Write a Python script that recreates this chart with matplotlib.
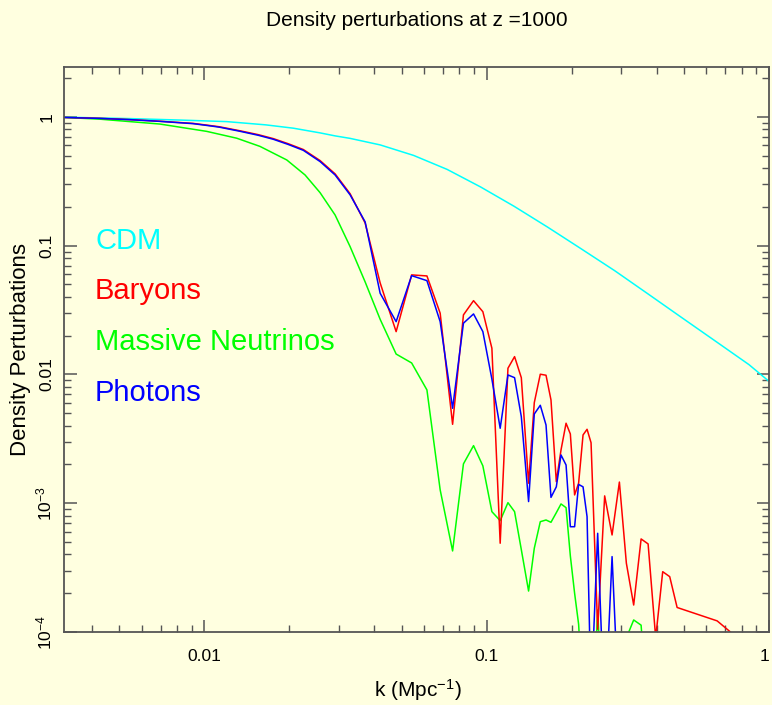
import matplotlib.pyplot as plt
from matplotlib.ticker import FixedLocator, LogLocator, NullFormatter

FONT = ["Liberation Sans", "DejaVu Sans"]
plt.rcParams["font.family"] = FONT
plt.rcParams["mathtext.fontset"] = "custom"
plt.rcParams["mathtext.rm"] = "Liberation Sans"
plt.rcParams["mathtext.it"] = "Liberation Sans"

BG = "#ffffe0"
FRAME = "#555555"

# values
k_cdm = [0.00318, 0.00544, 0.00819, 0.01199, 0.0165, 0.02065, 0.0257, 0.02903,
         0.0328, 0.04192, 0.0551, 0.0724, 0.0952, 0.1252, 0.1646, 0.2163, 0.2844,
         0.3739, 0.4915, 0.6461, 0.8492, 1.0]
d_cdm = [0.995, 0.970, 0.945, 0.919, 0.867, 0.817, 0.751, 0.712, 0.681, 0.606,
         0.502, 0.391, 0.2854, 0.2018, 0.139, 0.0944, 0.0638, 0.0420, 0.02757,
         0.01814, 0.01192, 0.00884]

k_bar = [0.00318, 0.00426, 0.00544, 0.00695, 0.00912, 0.0105, 0.0113, 0.01336,
         0.0155, 0.01754, 0.0198, 0.0224, 0.02568, 0.02903, 0.03281, 0.03709,
         0.04192, 0.04776, 0.0542, 0.0614, 0.0684, 0.0757, 0.0827, 0.0898, 0.0969,
         0.1043, 0.1116, 0.1189, 0.1255, 0.1326, 0.1407, 0.1474, 0.1548, 0.1622,
         0.1689, 0.1764, 0.1833, 0.1910, 0.1978, 0.2048, 0.2116, 0.2194, 0.2267,
         0.2342, 0.2472, 0.2617, 0.2780, 0.2951, 0.3124, 0.3316, 0.3523, 0.3730,
         0.3968, 0.4202, 0.4449, 0.4726, 0.6551, 0.730, 0.80]
d_bar = [0.99, 0.975, 0.953, 0.925, 0.890, 0.856, 0.838, 0.780, 0.728, 0.678,
         0.619, 0.558, 0.458, 0.361, 0.253, 0.150, 0.0514, 0.0215, 0.0593, 0.0582,
         0.0299, 0.0041, 0.0290, 0.0374, 0.0307, 0.01598, 4.89e-4, 0.01117,
         0.01375, 0.00944, 1.43e-3, 6.04e-3, 0.01004, 9.86e-3, 6.34e-3, 1.47e-3,
         2.59e-3, 4.18e-3, 3.45e-3, 1.16e-3, 1.43e-3, 3.39e-3, 3.75e-3, 2.95e-3,
         1.05e-4, 1.14e-3, 5.67e-4, 1.46e-3, 3.42e-4, 1.62e-4, 5.28e-4, 4.83e-4,
         9.0e-5, 2.94e-4, 2.69e-4, 1.55e-4, 1.22e-4, 1.0e-4, 8e-5]

k_nu = [0.00318, 0.00426, 0.00695, 0.01018, 0.01301, 0.01573, 0.01957, 0.02272,
        0.02568, 0.02903, 0.03281, 0.03709, 0.04192, 0.04776, 0.0542, 0.0614,
        0.0684, 0.0757, 0.0827, 0.0898, 0.0969, 0.1043, 0.1116, 0.1189, 0.1255,
        0.1326, 0.1407, 0.1474, 0.1548, 0.1622, 0.1689, 0.1764, 0.1833, 0.1910,
        0.1978, 0.2048, 0.2116, 0.2194, 0.2267, 0.2342, 0.2472, 0.2617, 0.2780,
        0.2951, 0.3124, 0.3316, 0.3523, 0.3730]
d_nu = [0.99, 0.960, 0.880, 0.772, 0.683, 0.590, 0.463, 0.354, 0.258, 0.173,
        0.0983, 0.0523, 0.0268, 0.0144, 0.01228, 7.58e-3, 1.27e-3, 4.26e-4,
        2.02e-3, 2.80e-3, 1.95e-3, 8.6e-4, 7.32e-4, 1.01e-3, 8.6e-4, 4.36e-4,
        2.08e-4, 4.47e-4, 7.19e-4, 7.41e-4, 7.11e-4, 8.44e-4, 9.87e-4, 9.24e-4,
        3.9e-4, 2.0e-4, 1.15e-4, 3e-5, 1e-5, 1e-5, 1.48e-4, 1e-5, 1e-5, 1e-5,
        9e-5, 1.24e-4, 1.13e-4, 2e-5]

k_pho = k_bar[:48]
d_pho = [0.99, 0.973, 0.951, 0.923, 0.886, 0.851, 0.832, 0.773, 0.720, 0.670,
         0.611, 0.550, 0.450, 0.354, 0.248, 0.153, 0.0427, 0.0257, 0.0585, 0.0535,
         0.0257, 5.46e-3, 0.0250, 0.0295, 0.0215, 9.2e-3, 3.82e-3, 9.91e-3,
         9.44e-3, 4.70e-3, 1.03e-3, 4.93e-3, 5.76e-3, 4.05e-3, 1.11e-3, 1.34e-3,
         2.37e-3, 1.98e-3, 6.57e-4, 6.57e-4, 1.40e-3, 1.34e-3, 7.86e-4, 3e-5,
         5.84e-4, 2e-5, 3.85e-4, 2e-5]

series_names = ["CDM", "Baryons", "Massive Neutrinos", "Photons"]
series_colors = ["#00ffff", "#ff0000", "#00ff00", "#0000ff"]

x_ticks = [0.01, 0.1, 1]
x_labels = ["0.01", "0.1", "1"]
y_ticks = [1e-4, 1e-3, 0.01, 0.1, 1]
y_labels = [r"$10^{-4}$", r"$10^{-3}$", "0.01", "0.1", "1"]

fig = plt.figure(figsize=(7.72, 7.05), dpi=100, facecolor=BG)
ax = fig.add_axes([64 / 772, 1 - 632 / 705, 705 / 772, 565 / 705])
ax.set_facecolor(BG)

ax.plot(k_cdm, d_cdm, color=series_colors[0], lw=1.1)
ax.plot(k_nu, d_nu, color=series_colors[2], lw=1.1)
ax.plot(k_bar, d_bar, color=series_colors[1], lw=1.1)
ax.plot(k_pho, d_pho, color=series_colors[3], lw=1.1)

ax.set_xscale("log")
ax.set_yscale("log")
ax.set_xlim(0.00318, 1.0)
ax.set_ylim(1e-4, 2.44)

ax.xaxis.set_major_locator(FixedLocator(x_ticks))
ax.set_xticklabels(x_labels, fontsize=12.5)
ax.get_xticklabels()[-1].set_ha("right")
ax.yaxis.set_major_locator(FixedLocator(y_ticks))
ax.set_yticklabels(y_labels, fontsize=12.5, rotation=90, va="center")
ax.xaxis.set_minor_locator(LogLocator(base=10, subs=range(2, 10)))
ax.yaxis.set_minor_locator(LogLocator(base=10, subs=range(2, 10)))
ax.xaxis.set_minor_formatter(NullFormatter())
ax.yaxis.set_minor_formatter(NullFormatter())

ax.tick_params(which="both", direction="in", top=True, right=True,
               color=FRAME, labelcolor="black")
ax.tick_params(which="major", length=9, width=1.1)
ax.tick_params(which="minor", length=5, width=1.0)
ax.tick_params(axis="x", which="major", pad=12)
ax.tick_params(axis="y", which="major", pad=7)
for side in ax.spines.values():
    side.set_color(FRAME)
    side.set_linewidth(1.3)

ax.text(0.5, 1.082, "Density perturbations at z =1000", transform=ax.transAxes,
        ha="center", va="center", fontsize=15)
ax.text(0.502, -0.1027, r"k (Mpc$^{-1}$)", transform=ax.transAxes,
        ha="center", va="center", fontsize=15)
ax.text(-0.0624, 0.5, "Density Perturbations", transform=ax.transAxes,
        ha="center", va="center", rotation=90, fontsize=16)

label_y = [0.6779, 0.5894, 0.4991, 0.4088]
for name, col, yy in zip(series_names, series_colors, label_y):
    ax.text(0.044, yy, name, color=col, transform=ax.transAxes,
            ha="left", va="baseline", fontsize=21)

fig.savefig("out.png", dpi=100, facecolor=BG)
